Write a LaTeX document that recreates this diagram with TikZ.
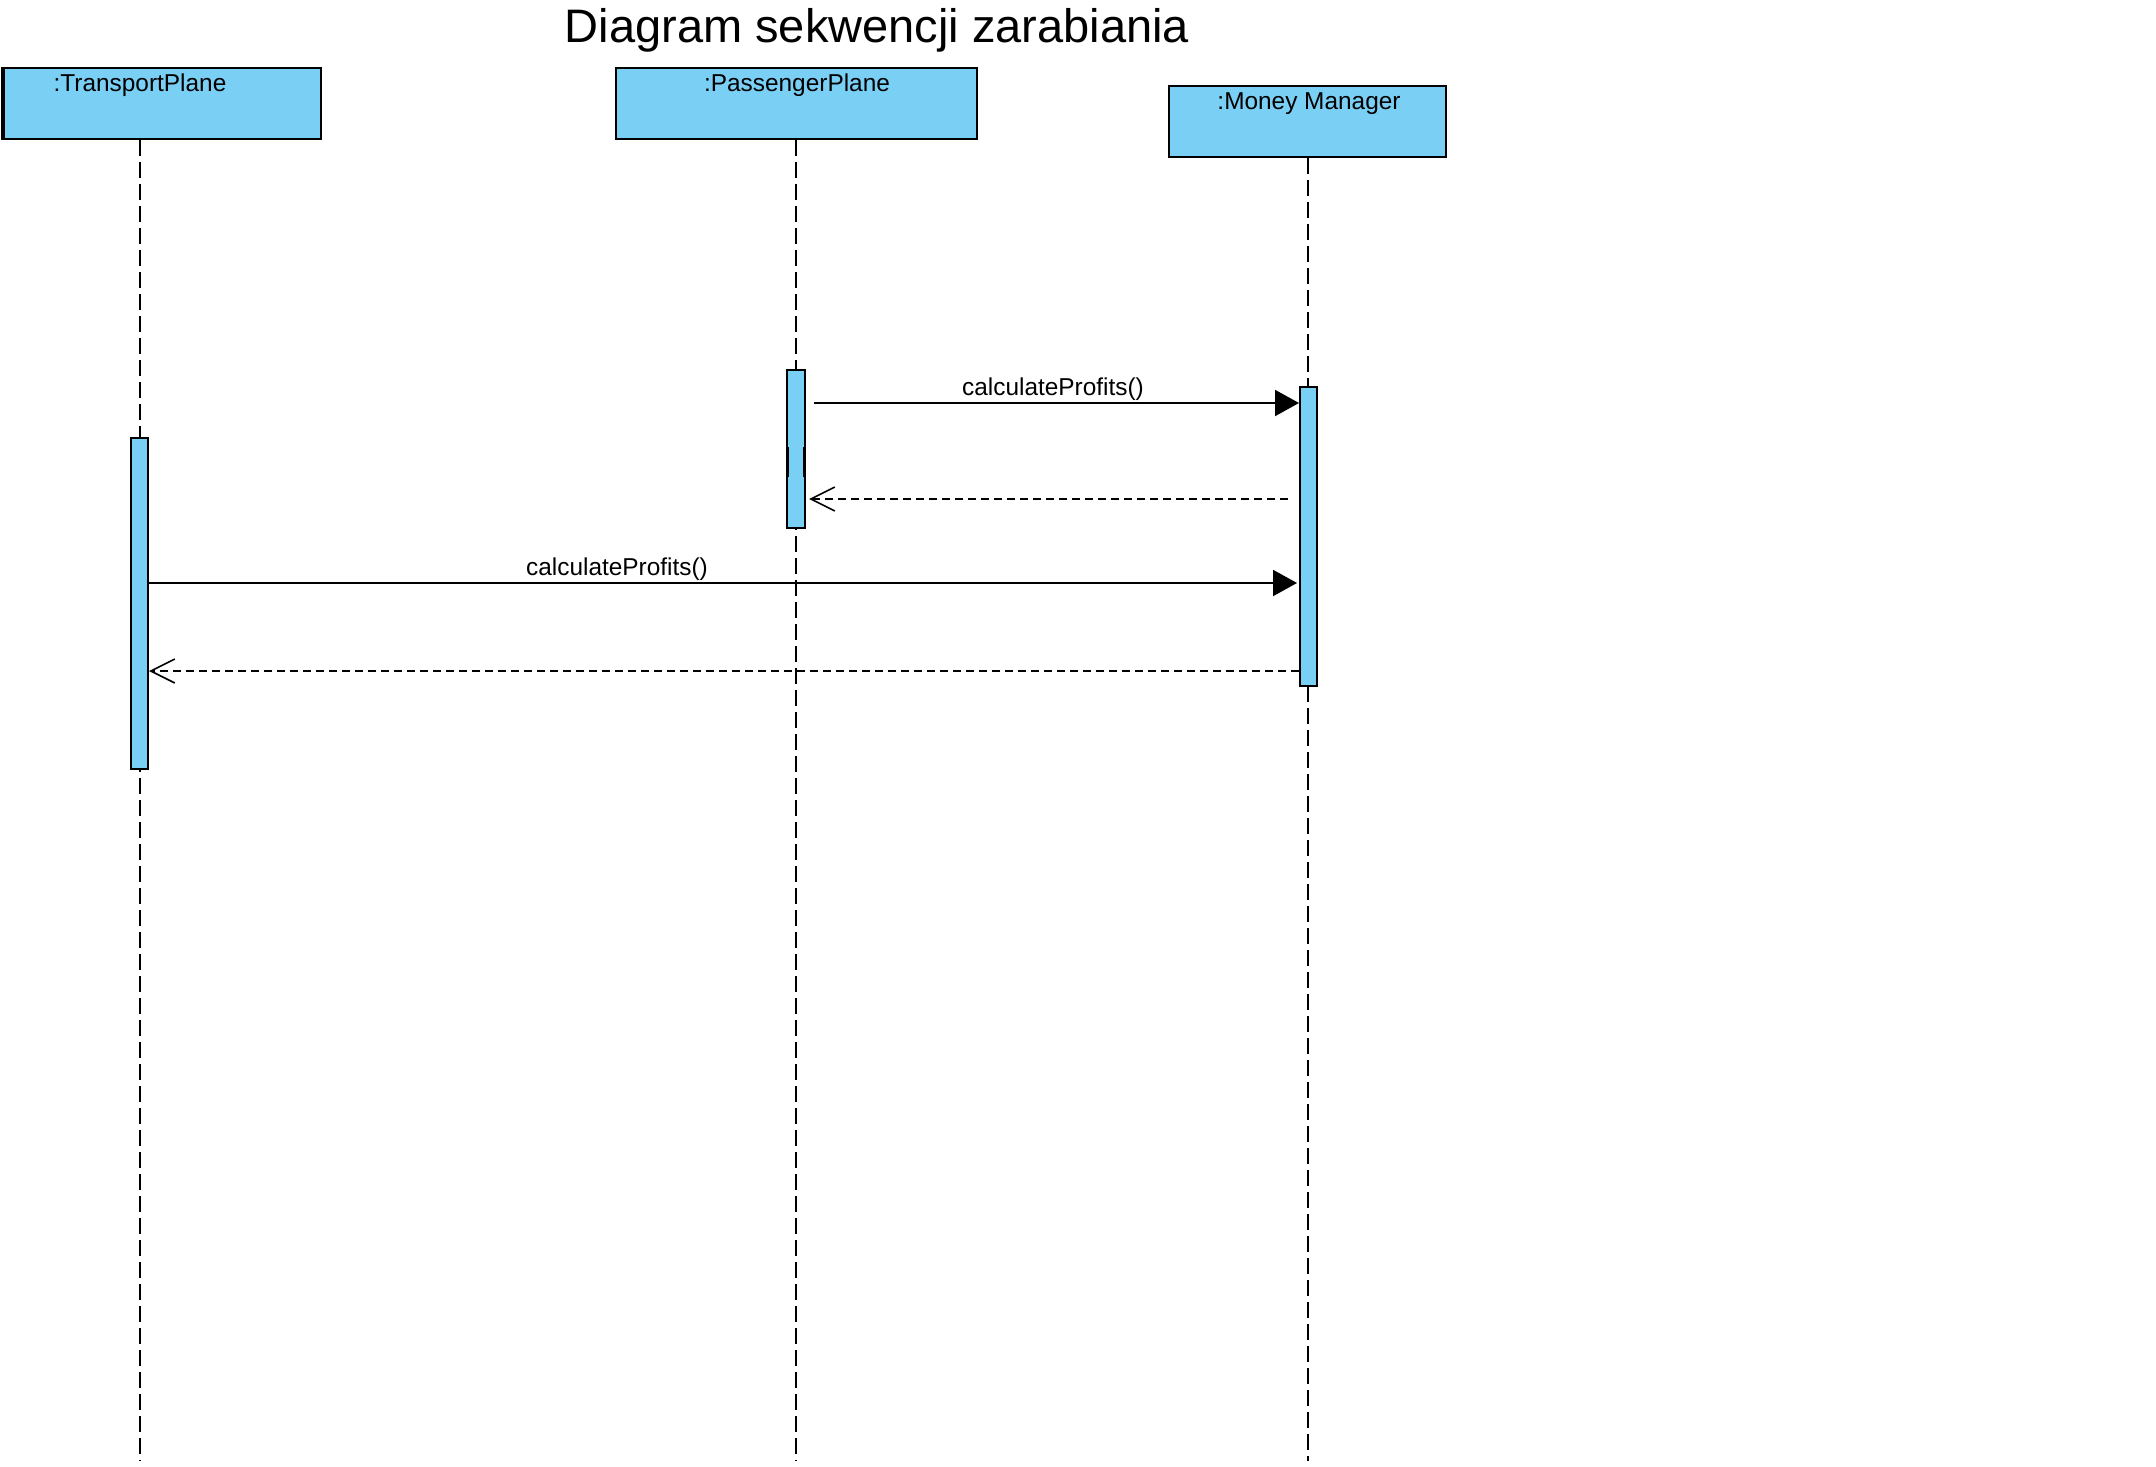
\documentclass[tikz,border=0pt]{standalone}
\usepackage{fontspec}
\setmainfont{Liberation Sans}
\usetikzlibrary{arrows.meta}
\definecolor{lifebox}{RGB}{122,207,245}
\begin{document}
\begin{tikzpicture}[x=0.5pt,y=-0.5pt,
  objbox/.style={draw=black, fill=lifebox, line width=1pt, rectangle, inner sep=0pt, minimum height=35.5pt},
  actbox/.style={draw=black, fill=lifebox, line width=1pt, rectangle, inner sep=0pt},
  lifeline/.style={draw=black, line width=1pt, dash pattern=on 8pt off 3pt},
  callmsg/.style={draw=black, line width=1pt, -{Triangle[length=12pt,width=13pt]}},
  retmsg/.style={draw=black, line width=0.8pt, dash pattern=on 4pt off 2.5pt, -{Straight Barb[length=12pt,width=12pt]}},
  lbl/.style={font=\fontsize{12.2}{14}\selectfont, anchor=base, inner sep=0pt, text=black},
]
\useasboundingbox (0,0) rectangle (2156,1466);

% title
\node[font=\fontsize{23.5}{27}\selectfont, anchor=base, inner sep=0pt] (title) at (877,43) {Diagram sekwencji zarabiania};

% object boxes
\node[objbox, minimum width=159.5pt] (T) at (161.5,103.5) {};
\draw[line width=1.8pt] (3.5,67) -- (3.5,138);
\node[objbox, minimum width=180.5pt] (P) at (796.5,103.5) {};
\node[objbox, minimum width=138.5pt] (M) at (1307.5,121.5) {};

\node[lbl] (Tl) at (140,92) {:TransportPlane};
\node[lbl] (Pl) at (797,92) {:PassengerPlane};
\node[lbl] (Ml) at (1309,110) {:Money Manager};

% lifelines
\coordinate (Tend) at (140,1461);
\coordinate (Pend) at (796,1461);
\coordinate (Mend) at (1308,1461);
\draw[lifeline] (T.south -| Tend) -- (Tend);
\draw[lifeline] (P.south -| Pend) -- (Pend);
\draw[lifeline] (M.south -| Mend) -- (Mend);

% activations
\node[actbox, minimum width=8.5pt, minimum height=165.5pt] (Tact) at (139.5,603.5) {};
\node[actbox, minimum width=9pt, minimum height=79pt] (Pact) at (796,449) {};
\node[actbox, minimum width=8.5pt, minimum height=149.5pt] (Mact) at (1308.5,536.5) {};
\draw[line width=1.5pt] (787.5,447) -- (787.5,477) (804.5,447) -- (804.5,477);

% messages
\coordinate (m1s) at (814,403);
\draw[callmsg] (m1s) -- (m1s -| Mact.west);
\node[lbl] (m1l) at (1053,395) {calculateProfits()};

\coordinate (r1s) at (1288,499);
\draw[retmsg, shorten >=1.5pt] (r1s) -- (r1s -| Pact.east);

\coordinate (m2e) at (1297,583);
\draw[callmsg] (Tact.east |- m2e) -- (m2e);
\node[lbl] (m2l) at (617,575) {calculateProfits()};

\coordinate (r2y) at (0,671);
\draw[retmsg] (Mact.west |- r2y) -- (Tact.east |- r2y);
\end{tikzpicture}
\end{document}
